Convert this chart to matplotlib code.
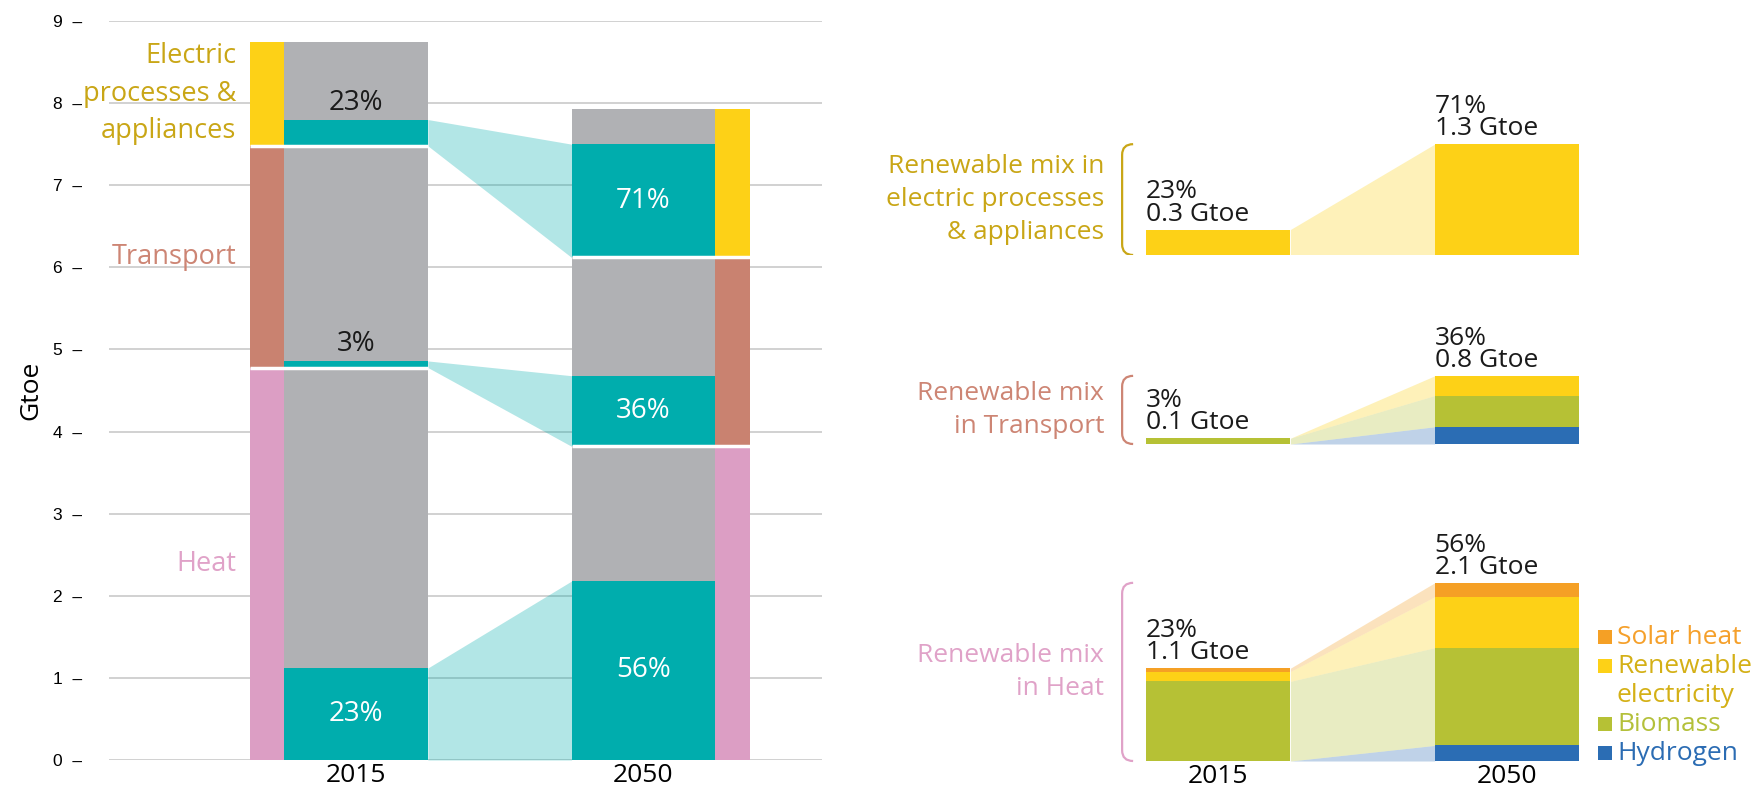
import numpy as np
import matplotlib
matplotlib.use('Agg')
import matplotlib.pyplot as plt
from matplotlib.path import Path
from matplotlib.patches import PathPatch

plt.rcParams['font.family'] = ['Open Sans', 'DejaVu Sans']

#### data: final energy by sector (Gtoe) ####
years = ['2015', '2050']
sectors = ['Heat', 'Transport', 'Electric\nprocesses &\nappliances']
total_2015 = [4.78, 2.70, 1.27]
total_2050 = [3.82, 2.30, 1.81]
renew_2015 = [1.12, 0.08, 0.32]
renew_2050 = [2.18, 0.86, 1.38]
share_2015 = ['23%', '3%', '23%']
share_2050 = ['56%', '36%', '71%']
yticks = [0, 1, 2, 3, 4, 5, 6, 7, 8, 9]

#### data: renewable mix per sector (Gtoe) ####
panel_names = ['Renewable mix in\nelectric processes\n& appliances',
               'Renewable mix\nin Transport',
               'Renewable mix\nin Heat']
sources = ['Hydrogen', 'Biomass', 'Renewable\nelectricity', 'Solar heat']
mix_2015 = [[0, 0, 0.31, 0],        # electric
            [0, 0.07, 0, 0],        # transport
            [0, 0.97, 0.12, 0.04]]  # heat
mix_2050 = [[0, 0, 1.35, 0],
            [0.21, 0.38, 0.24, 0],
            [0.19, 1.19, 0.62, 0.17]]
mix_lbl_2015 = ['23%\n0.3 Gtoe', '3%\n0.1 Gtoe', '23%\n1.1 Gtoe']
mix_lbl_2050 = ['71%\n1.3 Gtoe', '36%\n0.8 Gtoe', '56%\n2.1 Gtoe']

#### colours ####
gray = '#b0b1b4'
teal = '#00adad'
sector_colors = ['#dc9ec4', '#c98270', '#fdd117']
sector_text = ['#e0a2c8', '#cd8574', '#c9a616']
source_colors = ['#2b6db4', '#b6c135', '#fdd117', '#f5a025']
source_text = ['#2b6cb3', '#b4c03a', '#d4b016', '#f5a02b']

W, H = 1757, 792
fig = plt.figure(figsize=(W / 100, H / 100), dpi=100)

# ---------------- left chart ----------------
ax = fig.add_axes([109 / W, 32 / H, 713 / W, 739 / H])
bw, sw = 0.5, 0.12
xs = np.arange(2)
strip_x = [xs[0] - bw / 2 - sw / 2, xs[1] + bw / 2 + sw / 2]

bot15 = np.concatenate([[0], np.cumsum(total_2015)[:-1]])
bot50 = np.concatenate([[0], np.cumsum(total_2050)[:-1]])

for i in range(len(sectors)):
    ax.bar(xs[0], total_2015[i], bottom=bot15[i], width=bw, color=gray, zorder=2)
    ax.bar(xs[0], renew_2015[i], bottom=bot15[i], width=bw, color=teal, zorder=3)
    ax.bar(strip_x[0], total_2015[i], bottom=bot15[i], width=sw, color=sector_colors[i], zorder=2)
    ax.bar(xs[1], total_2050[i], bottom=bot50[i], width=bw, color=gray, zorder=2)
    ax.bar(xs[1], renew_2050[i], bottom=bot50[i], width=bw, color=teal, zorder=3)
    ax.bar(strip_x[1], total_2050[i], bottom=bot50[i], width=sw, color=sector_colors[i], zorder=2)

    # connector between renewable parts
    ax.fill_between([xs[0] + bw / 2, xs[1] - bw / 2],
                    [bot15[i], bot50[i]],
                    [bot15[i] + renew_2015[i], bot50[i] + renew_2050[i]],
                    color=teal, alpha=0.3, lw=0, zorder=2)

    # share labels
    if renew_2015[i] > 0.5:
        ax.text(xs[0], bot15[i] + renew_2015[i] / 2, share_2015[i], color='white',
                ha='center', va='center', fontsize=20, zorder=4)
    else:
        ax.annotate(share_2015[i], (xs[0], bot15[i] + renew_2015[i]), xytext=(0, 17),
                    textcoords='offset pixels', ha='center', va='center',
                    fontsize=20, color='#1a1a1a', zorder=4)
    ax.text(xs[1], bot50[i] + renew_2050[i] / 2, share_2050[i], color='white',
            ha='center', va='center', fontsize=20, zorder=4)

    # sector label
    ax.annotate(sectors[i], (strip_x[0] - sw / 2, bot15[i] + total_2015[i] / 2),
                xytext=(-13, 0), textcoords='offset pixels', ha='right', va='center',
                fontsize=19.5, color=sector_text[i], linespacing=1.45, annotation_clip=False)

# white separators between sector blocks
ax.hlines(bot15[1:], strip_x[0] - sw / 2, xs[0] + bw / 2, color='white', lw=2.5, zorder=5)
ax.hlines(bot50[1:], xs[1] - bw / 2, strip_x[1] + sw / 2, color='white', lw=2.5, zorder=5)

ax.set_xlim(-0.859, 1.621)
ax.set_ylim(0, 9)
ax.set_yticks(yticks)
ax.set_yticklabels([f'{t}  \u2013' for t in yticks], family='Liberation Sans', fontsize=12.5)
ax.tick_params(axis='y', length=0, pad=19)
ax.set_xticks(xs)
ax.set_xticklabels(years, fontsize=19)
ax.tick_params(axis='x', length=0, pad=2)
ax.grid(axis='y', color='#c9c9c9', lw=1.2, zorder=0)
ax.set_axisbelow(True)
for s in ax.spines.values():
    s.set_visible(False)
ax.set_ylabel('Gtoe', fontsize=19)
ax.yaxis.set_label_coords(-0.092, 0.5)

# ---------------- right panels ----------------
panel_base = [255, 444, 761]   # baseline of each panel, pixels from top
ymax = 2.3
for k in range(3):
    axr = fig.add_axes([1074 / W, (H - panel_base[k]) / H, 577 / W, ymax * 82.1 / H])
    axr.set_xlim(-0.5, 1.5)
    axr.set_ylim(0, ymax)
    b15 = np.concatenate([[0], np.cumsum(mix_2015[k])[:-1]])
    b50 = np.concatenate([[0], np.cumsum(mix_2050[k])[:-1]])
    for j in range(len(sources)):
        if mix_2015[k][j] > 0:
            axr.bar(xs[0], mix_2015[k][j], bottom=b15[j], width=bw, color=source_colors[j], lw=0)
        if mix_2050[k][j] > 0:
            axr.bar(xs[1], mix_2050[k][j], bottom=b50[j], width=bw, color=source_colors[j], lw=0)
        if mix_2015[k][j] > 0 or mix_2050[k][j] > 0:
            axr.fill_between([xs[0] + bw / 2, xs[1] - bw / 2],
                             [b15[j], b50[j]],
                             [b15[j] + mix_2015[k][j], b50[j] + mix_2050[k][j]],
                             color=source_colors[j], alpha=0.3, lw=0)
    t15, t50 = sum(mix_2015[k]), sum(mix_2050[k])
    axr.annotate(mix_lbl_2015[k], (xs[0] - bw / 2, t15), xytext=(0, 3),
                 textcoords='offset pixels', ha='left', va='bottom', fontsize=19,
                 color='#1a1a1a', linespacing=0.85, annotation_clip=False)
    axr.annotate(mix_lbl_2050[k], (xs[1] - bw / 2, t50), xytext=(0, 3),
                 textcoords='offset pixels', ha='left', va='bottom', fontsize=19,
                 color='#1a1a1a', linespacing=0.85, annotation_clip=False)

    # bracket + panel name
    col = sector_text[[2, 1, 0][k]]
    xv = xs[0] - bw / 2 - 24 / 288.5
    xe = xs[0] - bw / 2 - 13 / 288.5
    r = 0.13
    verts = [(xe, t50), (xv, t50), (xv, t50 - r), (xv, r), (xv, 0), (xe, 0)]
    codes = [Path.MOVETO, Path.CURVE3, Path.CURVE3, Path.LINETO, Path.CURVE3, Path.CURVE3]
    axr.add_patch(PathPatch(Path(verts, codes), fc='none', ec=col, lw=1.6, clip_on=False))
    axr.annotate(panel_names[k], (xs[0] - bw / 2, t50 / 2), xytext=(-42, 0),
                 textcoords='offset pixels', ha='right', va='center', fontsize=19,
                 color=col, linespacing=1.42, annotation_clip=False)

    for s in axr.spines.values():
        s.set_visible(False)
    axr.set_yticks([])
    if k < 2:
        axr.set_xticks([])
    else:
        axr.set_xticks(xs)
        axr.set_xticklabels(years, fontsize=19)
        axr.tick_params(axis='x', length=0, pad=2)
        # legend, top to bottom
        line_y = 1.51
        step = 29 / 82.1
        for j in reversed(range(len(sources))):
            lines = sources[j].split('\n')
            axr.plot(1.339, line_y, marker='s', ms=10.5, color=source_colors[j],
                     clip_on=False, mew=0)
            for ln in lines:
                axr.text(1.382, line_y, ln, color=source_text[j], fontsize=19,
                         ha='left', va='center', clip_on=False)
                line_y -= step

fig.savefig('out.png', dpi=100)
